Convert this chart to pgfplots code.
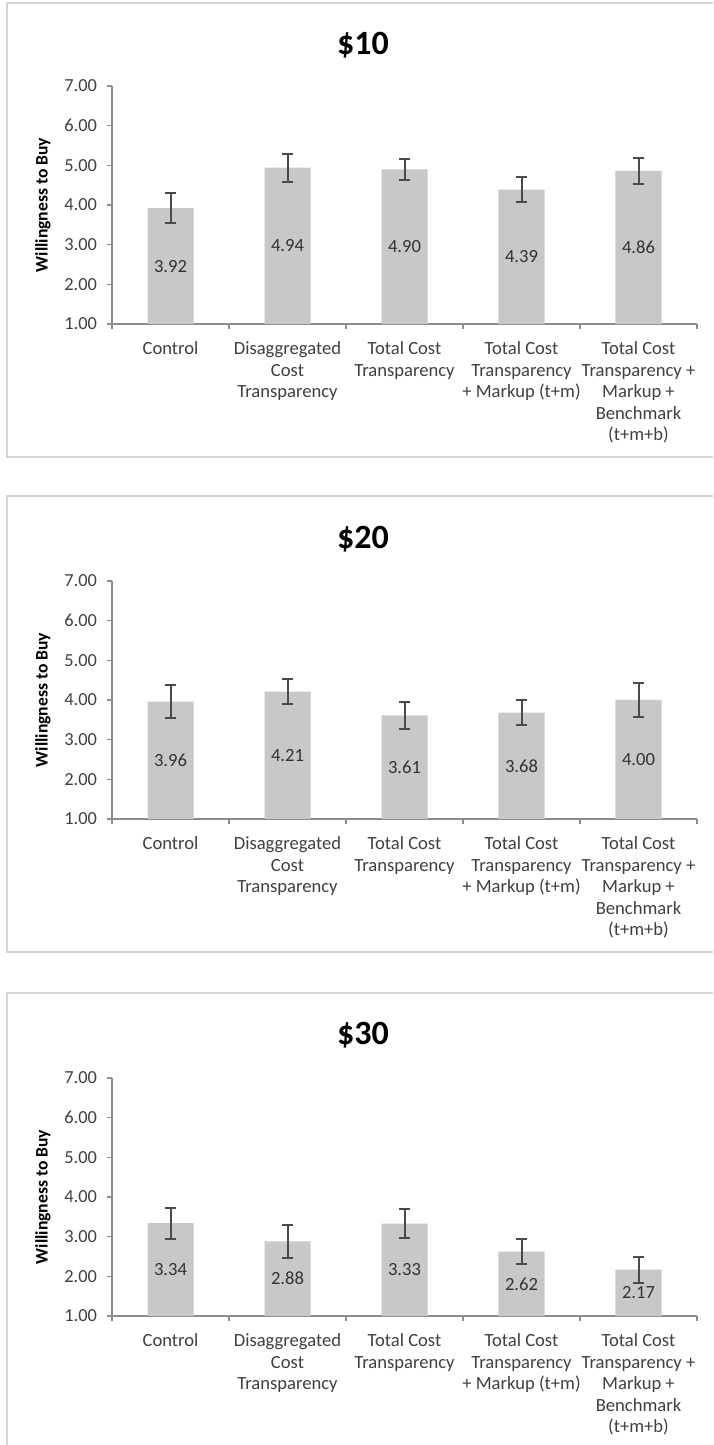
\documentclass[border=0pt]{standalone}
\usepackage{pgfplots}
\pgfplotsset{compat=1.18}
\usepackage{pgfplotstable}
\usepackage{fontspec}
\setmainfont{Carlito}

\definecolor{barfill}{HTML}{C8C8C8}
\definecolor{axisgray}{HTML}{8C8C8C}
\definecolor{errgray}{HTML}{4A4A4A}
\definecolor{textgray}{HTML}{404040}
\definecolor{framegray}{HTML}{D4D4D4}

% x = category index, y = mean, err = half length of error bar
\pgfplotstableread{
x y err
0 3.92 0.37
1 4.94 0.35
2 4.90 0.27
3 4.39 0.31
4 4.86 0.33
}\tenusd
\pgfplotstableread{
x y err
0 3.96 0.41
1 4.21 0.31
2 3.61 0.35
3 3.68 0.32
4 4.00 0.42
}\twentyusd
\pgfplotstableread{
x y err
0 3.34 0.39
1 2.88 0.41
2 3.33 0.36
3 2.62 0.31
4 2.17 0.33
}\thirtyusd

\pgfplotsset{
  wtb/.style={
    scale only axis, width=292.5pt, height=119pt,
    anchor=south west,
    xmin=-0.5, xmax=4.5, ymin=1, ymax=7,
    axis x line=bottom, axis y line=left,
    axis line style={-, draw=axisgray, line width=0.6pt},
    ytick={1,...,7},
    xtick={0,...,4},
    minor xtick={-0.5,0.5,...,4.5},
    major x tick style={draw=none},
    minor x tick style={draw=axisgray, line width=0.6pt},
    y tick style={draw=axisgray, line width=0.6pt},
    tick align=outside,
    major tick length=2.5pt, minor tick length=2.5pt,
    xticklabels={Control,
      {Disaggregated\\Cost\\Transparency},
      {Total Cost\\Transparency},
      {Total Cost\\Transparency\\+ Markup (t+m)},
      {Total Cost\\Transparency +\\Markup +\\Benchmark\\(t+m+b)}},
    xticklabel style={align=center, anchor=north, yshift=-3pt,
      font=\fontsize{9.3}{10.75}\selectfont, text=textgray},
    yticklabel style={font=\fontsize{9.2}{10}\selectfont, text=textgray, xshift=-1.5pt},
    /pgf/number format/.cd, fixed, fixed zerofill, precision=2, assume math mode=true,
    /pgfplots/.cd,
    ylabel={Willingness to Buy},
    ylabel style={font=\bfseries\fontsize{8.8}{10}\selectfont,
      at={(axis description cs:-0.118,0.5)}, anchor=center},
  },
  bars/.style={ybar, bar width=23pt, fill=barfill, draw=none,
    error bars/.cd, y dir=both, y explicit,
    error bar style={draw=errgray, line width=1pt},
    error mark options={rotate=90, draw=errgray, line width=1pt, mark size=2.6pt}},
  vals/.style={draw=none, mark=none, nodes near coords, point meta=explicit,
    every node near coord/.append style={anchor=center,
      font=\fontsize{9.3}{10}\selectfont, text=black!80}},
}

\begin{document}
\begin{tikzpicture}
\path[use as bounding box, fill=white] (0,0) rectangle (356.5pt,722.5pt);

% panel frames
\draw[framegray, line width=1.2pt] (356.5pt,721pt) -- (3.5pt,721pt) -- (3.5pt,494pt) -- (356.5pt,494pt);
\draw[framegray, line width=1.2pt] (356.5pt,474.5pt) -- (3.5pt,474.5pt) -- (3.5pt,246.5pt) -- (356.5pt,246.5pt);
\draw[framegray, line width=1.2pt] (356.5pt,226pt) -- (3.5pt,226pt) -- (3.5pt,0pt);

% titles
\node[font=\bfseries\fontsize{17}{20}\selectfont] at (181.5pt,700pt) {\$10};
\node[font=\bfseries\fontsize{17}{20}\selectfont] at (181.5pt,453pt) {\$20};
\node[font=\bfseries\fontsize{17}{20}\selectfont] at (181.5pt,205pt) {\$30};

\begin{axis}[wtb, at={(56pt,560.5pt)}]
  \addplot[bars] table[x=x, y=y, y error=err] {\tenusd};
  \addplot[vals] table[x=x, y expr={(\thisrow{y}+1)/2}, meta=y] {\tenusd};
\end{axis}

\begin{axis}[wtb, at={(56pt,313pt)}]
  \addplot[bars] table[x=x, y=y, y error=err] {\twentyusd};
  \addplot[vals] table[x=x, y expr={(\thisrow{y}+1)/2}, meta=y] {\twentyusd};
\end{axis}

\begin{axis}[wtb, at={(56pt,64.5pt)}]
  \addplot[bars] table[x=x, y=y, y error=err] {\thirtyusd};
  \addplot[vals] table[x=x, y expr={(\thisrow{y}+1)/2}, meta=y] {\thirtyusd};
\end{axis}
\end{tikzpicture}
\end{document}
